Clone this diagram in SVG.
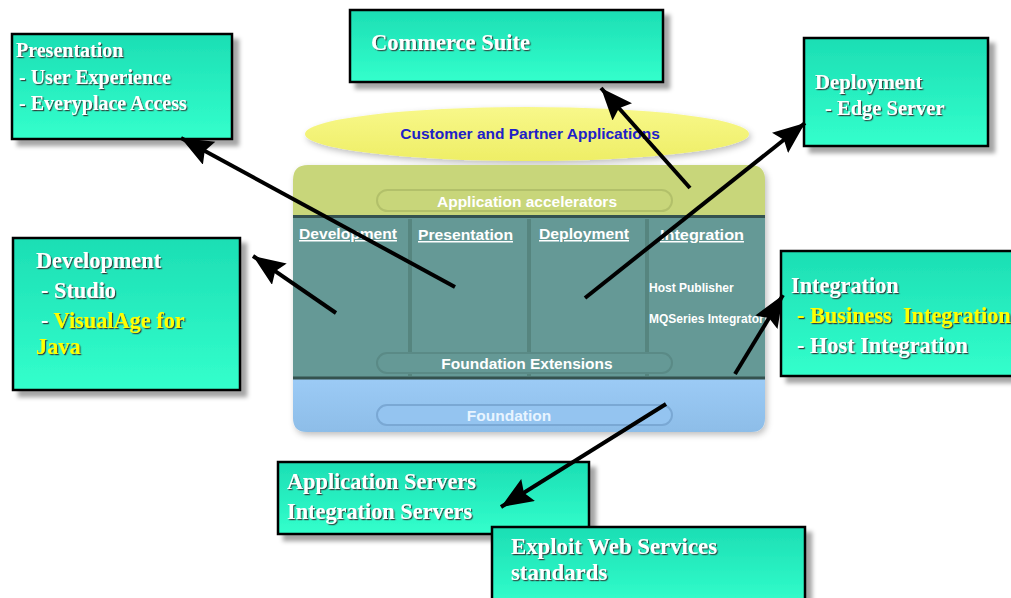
<svg xmlns="http://www.w3.org/2000/svg" width="1011" height="598" viewBox="0 0 1011 598">
<defs>
<linearGradient id="boxg" x1="0" y1="0" x2="0" y2="1">
<stop offset="0" stop-color="#1cdeb4"/>
<stop offset="1" stop-color="#33ffcc"/>
</linearGradient>
<linearGradient id="ellg" x1="0" y1="0" x2="0" y2="1">
<stop offset="0" stop-color="#f8f88a"/>
<stop offset="1" stop-color="#eeee66"/>
</linearGradient>
<linearGradient id="blueg" x1="0" y1="0" x2="0" y2="1">
<stop offset="0" stop-color="#9ccbf6"/>
<stop offset="1" stop-color="#8dbde8"/>
</linearGradient>
<filter id="sh" x="-10%" y="-10%" width="130%" height="130%">
<feGaussianBlur in="SourceAlpha" stdDeviation="2"/>
<feOffset dx="6" dy="6" result="b"/>
<feFlood flood-color="#000" flood-opacity="0.35"/>
<feComposite in2="b" operator="in"/>
<feMerge><feMergeNode/><feMergeNode in="SourceGraphic"/></feMerge>
</filter>
<filter id="soft" x="-5%" y="-10%" width="110%" height="125%">
<feGaussianBlur in="SourceAlpha" stdDeviation="3"/>
<feOffset dx="2" dy="3" result="b"/>
<feFlood flood-color="#000" flood-opacity="0.25"/>
<feComposite in2="b" operator="in"/>
<feMerge><feMergeNode/><feMergeNode in="SourceGraphic"/></feMerge>
</filter>
<filter id="ts" x="-5%" y="-20%" width="110%" height="140%">
<feDropShadow dx="1.2" dy="1.2" stdDeviation="0.4" flood-color="#333" flood-opacity="0.9"/>
</filter>
<marker id="ah" markerUnits="userSpaceOnUse" markerWidth="36" markerHeight="28" refX="32" refY="13" orient="auto">
<path d="M0,0 L32,13 L0,26 L5,13 z" fill="#000"/>
</marker>
</defs>
<style>
.box{fill:url(#boxg);stroke:#000;stroke-width:2.5;filter:url(#sh)}
.bt{font-family:"Liberation Serif","Times New Roman",serif;font-weight:bold;fill:#fff;filter:url(#ts)}
.y{fill:#ffff00}
.st{font-family:"Liberation Sans",Arial,sans-serif;font-weight:bold;fill:#fff}
.hd{font-family:"Liberation Sans",Arial,sans-serif;font-weight:bold;fill:#fff;font-size:15px;text-decoration:underline}
.pill{fill:none;stroke-width:2}
.conn line{stroke:#000;stroke-width:4;marker-end:url(#ah)}
</style>
<rect width="1011" height="598" fill="#fff"/>

<g id="platform">
<ellipse cx="527" cy="134" rx="222" ry="27" fill="url(#ellg)" filter="url(#soft)"/>
<text class="st" x="530" y="139" font-size="15.5" style="fill:#2020c8" text-anchor="middle">Customer and Partner Applications</text>
<g filter="url(#soft)">
<path d="M293,180 Q293,165 308,165 L750,165 Q765,165 765,180 L765,217 L293,217 z" fill="#c8d67a"/>
<rect x="293" y="217" width="472" height="161" fill="#659996"/>
<path d="M293,378 L765,378 L765,418 Q765,432 751,432 L307,432 Q293,432 293,418 z" fill="url(#blueg)"/>
</g>
<line x1="293" y1="216.5" x2="765" y2="216.5" stroke="#34524f" stroke-width="3"/>
<line x1="293" y1="378" x2="765" y2="378" stroke="#34524f" stroke-width="3"/>
<g stroke="#56857f" stroke-width="4">
<line x1="410" y1="219" x2="410" y2="376"/>
<line x1="529" y1="219" x2="529" y2="376"/>
<line x1="647" y1="219" x2="647" y2="376"/>
</g>
<rect class="pill" x="377" y="190" width="295" height="21" rx="10.5" stroke="#b2c06a" style="fill:#c8d67a"/>
<text class="st" x="527" y="207" font-size="15.5" text-anchor="middle">Application accelerators</text>
<text class="hd" x="299" y="239" textLength="98" lengthAdjust="spacingAndGlyphs">Development</text>
<text class="hd" x="418" y="240" textLength="95" lengthAdjust="spacingAndGlyphs">Presentation</text>
<text class="hd" x="539" y="239" textLength="90" lengthAdjust="spacingAndGlyphs">Deployment</text>
<text class="hd" x="660" y="240" textLength="84" lengthAdjust="spacingAndGlyphs">Integration</text>
<text class="st" x="649" y="292" font-size="12">Host Publisher</text>
<text class="st" x="649" y="323" font-size="12">MQSeries Integrator</text>
<rect class="pill" x="377" y="353" width="295" height="20" rx="10" stroke="#5a8a86" style="fill:#659996"/>
<text class="st" x="527" y="369" font-size="15.5" text-anchor="middle">Foundation Extensions</text>
<rect class="pill" x="377" y="405" width="295" height="20" rx="10" stroke="#7aa8d4" style="fill:#94c4f0"/>
<text class="st" x="509" y="421" font-size="15.5" text-anchor="middle" style="fill:#e8f4ff">Foundation</text>
</g>

<g id="n-presentation">
<rect class="box" x="12" y="34" width="220" height="105"/>
<text class="bt" x="16" y="57" font-size="20">Presentation</text>
<text class="bt" x="19" y="84" font-size="20">- User Experience</text>
<text class="bt" x="19" y="110" font-size="20">- Everyplace Access</text>
</g>

<g id="n-commerce">
<rect class="box" x="350" y="10" width="313" height="72"/>
<text class="bt" x="371" y="50" font-size="22.5">Commerce Suite</text>
</g>

<g id="n-deployment">
<rect class="box" x="804" y="38" width="184" height="108"/>
<text class="bt" x="815" y="89" font-size="20.8">Deployment</text>
<text class="bt" x="825" y="115" font-size="20.5">- Edge Server</text>
</g>

<g id="n-development">
<rect class="box" x="13" y="238" width="227" height="152"/>
<text class="bt" x="36" y="268" font-size="22.3">Development</text>
<text class="bt" x="41" y="298" font-size="22.3">- Studio</text>
<text class="bt" x="41" y="328" font-size="22.3">- <tspan class="y">VisualAge for</tspan></text>
<text class="bt y" x="36" y="354" font-size="22.3">Java</text>
</g>

<g id="n-integration">
<rect class="box" x="781" y="251" width="240" height="125"/>
<text class="bt" x="791" y="293" font-size="22.3">Integration</text>
<text class="bt y" x="797" y="323" font-size="22.3" xml:space="preserve">- Business  Integration</text>
<text class="bt" x="797" y="353" font-size="22.3">- Host Integration</text>
</g>

<g id="n-servers">
<rect class="box" x="278" y="462" width="311" height="72"/>
<text class="bt" x="287" y="489" font-size="22.3">Application Servers</text>
<text class="bt" x="287" y="519" font-size="22.3">Integration Servers</text>
</g>

<g id="n-webservices">
<rect class="box" x="492" y="527" width="313" height="80"/>
<text class="bt" x="511" y="554" font-size="22.8">Exploit Web Services</text>
<text class="bt" x="511" y="580" font-size="22.8">standards</text>
</g>

<g id="connectors" class="conn">
<line x1="455" y1="287" x2="181" y2="138"/>
<line x1="336" y1="313" x2="253" y2="256"/>
<line x1="690" y1="188" x2="601" y2="88"/>
<line x1="585" y1="298" x2="805" y2="123"/>
<line x1="735" y1="374" x2="783" y2="295"/>
<line x1="666" y1="404" x2="501" y2="507"/>
</g>
</svg>
